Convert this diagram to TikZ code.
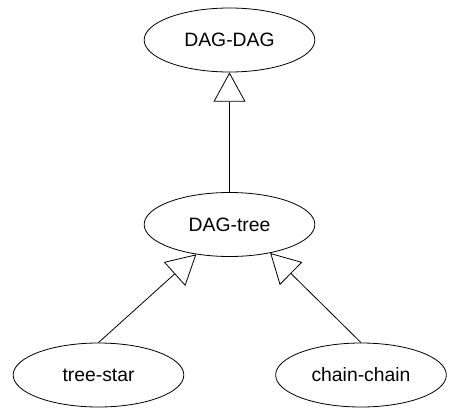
\documentclass[tikz,border=0pt]{standalone}
\usepackage{fontspec}
\setmainfont{Liberation Sans}
\usetikzlibrary{shapes.geometric,arrows.meta}
\begin{document}
\begin{tikzpicture}[x=0.75pt,y=-0.75pt,
        cls/.style={draw,ellipse,line width=0.6pt,minimum width=128pt,minimum height=48pt,inner sep=0pt,font=\fontsize{14.5}{17}\selectfont},
        isa/.style={line width=0.6pt,-{Triangle[open,length=22pt,width=24pt]}}]
                \useasboundingbox (0,0) rectangle (451,408);
                \node[cls] (dagdag) at (229.5, 40) {DAG-DAG};
                \node[cls] (dagtree) at (229.5, 224.5) {DAG-tree};
                \node[cls] (treestar) at (98.5, 375) {tree-star};
                \node[cls] (chainchain) at (361, 375) {chain-chain};

                \draw[isa] (dagtree.north) -- (dagdag.south);
                \draw[isa] (treestar.north) -- (dagtree.222);
                \draw[isa] (chainchain.north) -- (dagtree.325);
            \end{tikzpicture}
\end{document}
